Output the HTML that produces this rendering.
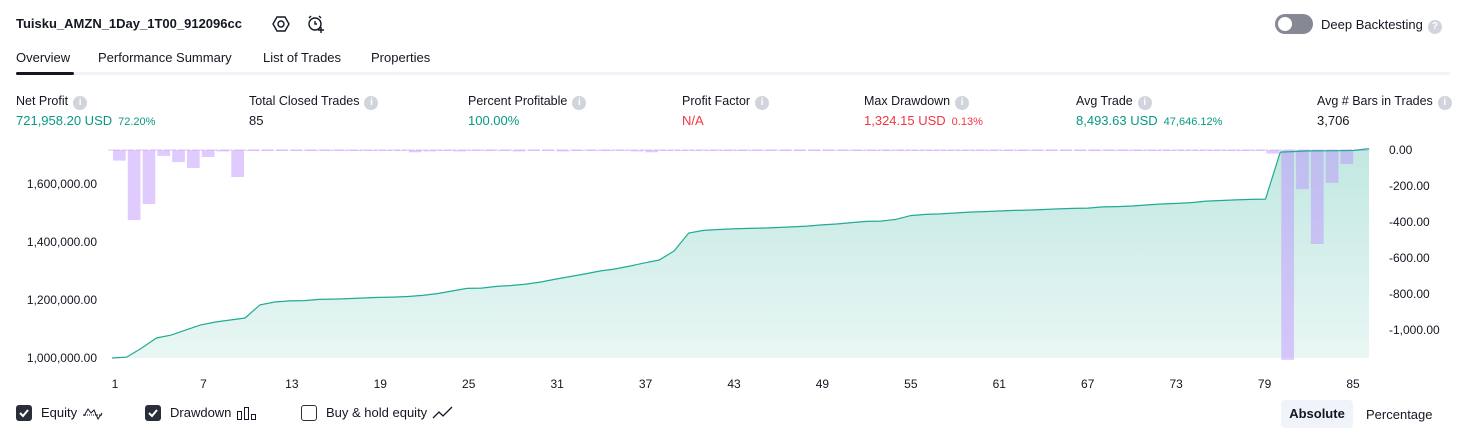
<!DOCTYPE html>
<html><head><meta charset="utf-8">
<style>
body{margin:0;width:1466px;height:438px;background:#fff;font-family:"Liberation Sans","DejaVu Sans",sans-serif;color:#131722;position:relative;overflow:hidden}
.a{position:absolute;white-space:nowrap}
.lbl{font-size:12.5px;font-weight:normal;color:#131722}
.val{font-size:13px}
.info{display:inline-block;width:14px;height:14px;border-radius:50%;background:#d1d4dc;color:#fff;font-size:10px;text-align:center;line-height:14px;vertical-align:0px;margin-left:5px;font-weight:bold}
.g{color:#089981}.r{color:#f23645}
.sm{font-size:11px;margin-left:6px}
.cb{display:inline-block;width:16px;height:16px;border-radius:3px;background:#2a2e39;vertical-align:-4px;margin-right:9px;position:relative}
.cb.off{background:#fff;border:1.5px solid #2a2e39;width:14px;height:14px}
</style></head><body>
<div class="a" style="left:16px;top:16px;font-size:13px;font-weight:bold">Tuisku_AMZN_1Day_1T00_912096cc</div>
<svg class="a" style="left:272px;top:15px" width="18" height="18"><polygon points="5,2 13,2 17,9 13,16 5,16 1,9" fill="none" stroke="#131722" stroke-width="1.4"/><circle cx="9" cy="9" r="3" fill="none" stroke="#131722" stroke-width="1.4"/></svg>
<svg class="a" style="left:306px;top:14px" width="20" height="20"><circle cx="9" cy="10" r="6" fill="none" stroke="#131722" stroke-width="1.4"/><path d="M9 7v3h2M3 4l2-2M15 4l-2-2M15 13v6M12 16h6" stroke="#131722" stroke-width="1.4" fill="none"/></svg>
<div class="a" style="left:1275px;top:14px;width:38px;height:20px;border-radius:10px;background:#868993"><div style="position:absolute;left:3px;top:3px;width:14px;height:14px;border-radius:50%;background:#fff"></div></div>
<div class="a" style="left:1321px;top:17px;font-size:13px">Deep Backtesting<span class="info">?</span></div>

<div class="a" style="left:16px;top:50px;font-size:13px">Overview</div>
<div class="a" style="left:98px;top:50px;font-size:13px">Performance Summary</div>
<div class="a" style="left:263px;top:50px;font-size:13px">List of Trades</div>
<div class="a" style="left:371px;top:50px;font-size:13px">Properties</div>
<div class="a" style="left:16px;top:72px;width:1434px;height:3px;background:#f0f3fa;border-radius:2px"></div>
<div class="a" style="left:16px;top:72px;width:58px;height:3px;background:#131722;border-radius:2px"></div>

<div class="a lbl" style="left:16px;top:94px">Net Profit<span class="info">i</span></div>
<div class="a val g" style="left:16px;top:113px">721,958.20 USD<span class="sm">72.20%</span></div>
<div class="a lbl" style="left:249px;top:94px">Total Closed Trades<span class="info">i</span></div>
<div class="a val" style="left:249px;top:113px">85</div>
<div class="a lbl" style="left:468px;top:94px">Percent Profitable<span class="info">i</span></div>
<div class="a val g" style="left:468px;top:113px">100.00%</div>
<div class="a lbl" style="left:682px;top:94px">Profit Factor<span class="info">i</span></div>
<div class="a val r" style="left:682px;top:113px">N/A</div>
<div class="a lbl" style="left:864px;top:94px">Max Drawdown<span class="info">i</span></div>
<div class="a val r" style="left:864px;top:113px">1,324.15 USD<span class="sm">0.13%</span></div>
<div class="a lbl" style="left:1076px;top:94px">Avg Trade<span class="info">i</span></div>
<div class="a val g" style="left:1076px;top:113px">8,493.63 USD<span class="sm">47,646.12%</span></div>
<div class="a lbl" style="left:1317px;top:94px">Avg # Bars in Trades<span class="info">i</span></div>
<div class="a val" style="left:1317px;top:113px">3,706</div>

<svg class="a" id="chart" style="left:0;top:0" width="1466" height="438"></svg>

<div class="a" style="left:16px;top:405px;font-size:13px"><span class="cb"><svg width="16" height="16"><path d="M4 8l3 3 5-6" stroke="#fff" stroke-width="2" fill="none"/></svg></span>Equity <svg width="24" height="16" style="vertical-align:-4px"><path d="M2 10h20" stroke="#131722" stroke-dasharray="1 1"/><path d="M3 11l4-7 3 4 3-3 4 9 4-6" stroke="#131722" fill="none"/></svg></div>
<div class="a" style="left:145px;top:405px;font-size:13px"><span class="cb"><svg width="16" height="16"><path d="M4 8l3 3 5-6" stroke="#fff" stroke-width="2" fill="none"/></svg></span>Drawdown <svg width="24" height="16" style="vertical-align:-4px"><rect x="2.5" y="6.5" width="4" height="8" fill="none" stroke="#131722"/><rect x="9.5" y="2.5" width="4" height="12" fill="none" stroke="#131722"/><rect x="16.5" y="9.5" width="4" height="5" fill="none" stroke="#131722"/></svg></div>
<div class="a" style="left:301px;top:405px;font-size:13px"><span class="cb off"></span>Buy &amp; hold equity <svg width="24" height="16" style="vertical-align:-4px"><path d="M2 13l6-6 4 4 9-9" stroke="#131722" fill="none" stroke-width="1.3"/></svg></div>
<div class="a" style="left:1281px;top:400px;width:72px;height:28px;background:#f0f3fa;border-radius:4px;font-size:13px;font-weight:bold;text-align:center;line-height:28px">Absolute</div>
<div class="a" style="left:1366px;top:407px;font-size:13px">Percentage</div>

<script>
const equity=[1000000,1003000,1034000,1069000,1079000,1097000,1114000,1124000,1131000,1138000,1183000,1193000,1197000,1198000,1202000,1203000,1205000,1207000,1209000,1210000,1212000,1216000,1222000,1231000,1240000,1241000,1247000,1250000,1255000,1262000,1272000,1281000,1290000,1300000,1307000,1317000,1328000,1338000,1369000,1431000,1440000,1443000,1445000,1447000,1448000,1450000,1452000,1455000,1459000,1462000,1467000,1471000,1472000,1478000,1491000,1495000,1497000,1500000,1503000,1505000,1507000,1509000,1510000,1512000,1514000,1516000,1517000,1521000,1522000,1524000,1528000,1531000,1533000,1536000,1541000,1543000,1545000,1547000,1548000,1710000,1712000,1714000,1714500,1715000,1716000,1721958];
const drawdown=[-59,-389,-300,-33,-67,-100,-39,-8,-150,-3,-5,-3,-5,-5,-5,-3,-5,-5,-3,-5,-13,-8,-3,-8,-5,-3,-5,-8,-3,-5,-8,-3,-5,-5,-5,-8,-13,-3,-3,-3,-3,-3,-3,-3,-3,-3,-3,-3,-3,-3,-3,-3,-3,-3,-3,-3,-3,-3,-3,-3,-3,-3,-3,-3,-3,-3,-3,-3,-3,-3,-3,-3,-3,-3,-3,-3,-3,-3,-20,-1166,-217,-522,-183,-78,-3];
const xTicks=[1,7,13,19,25,31,37,43,49,55,61,67,73,79,85];
const eqTicks=[1000000,1200000,1400000,1600000];
const ddTicks=[0,-200,-400,-600,-800,-1000];
const NS='http://www.w3.org/2000/svg';
const svg=document.getElementById('chart');
const fmt=(v,d)=>v.toLocaleString('en-US',{minimumFractionDigits:d,maximumFractionDigits:d});
const step=(1369-112)/85;
const xEq=i=>112+i*step;
const yEq=v=>358-(v-1000000)*58/200000;
const xTrade=n=>115+(n-1)*(1353-115)/84;
const yDD=v=>150-v*0.18;
function mk(tag,attrs){const e=document.createElementNS(NS,tag);for(const k in attrs)e.setAttribute(k,attrs[k]);svg.appendChild(e);return e;}
const defs=mk('defs',{});
defs.innerHTML='<linearGradient id="gf" x1="0" y1="0" x2="0" y2="1"><stop offset="0" stop-color="#22ab94" stop-opacity="0.28"/><stop offset="1" stop-color="#22ab94" stop-opacity="0.1"/></linearGradient>';
let pts=equity.map((v,i)=>xEq(i).toFixed(1)+','+yEq(v).toFixed(1));
const area=mk('path',{d:'M'+xEq(0)+',358L'+pts.join('L')+'L'+xEq(equity.length-1)+',358Z',fill:'url(#gf)'});


const base=mk('line',{x1:108,x2:1370,y1:150,y2:150,stroke:'#e1c4fb','stroke-width':1,'stroke-dasharray':'12 2'});


const bw=step*0.86;
drawdown.forEach((v,i)=>{
  const r=mk('rect',{x:(xEq(i+0.5)-bw/2).toFixed(1),y:150,width:bw.toFixed(1),height:Math.max(1,yDD(v)-150).toFixed(1),fill:'#ba8cff','fill-opacity':0.45});
  
  
});
const line=mk('polyline',{points:pts.join(' '),fill:'none',stroke:'#22ab94','stroke-width':1.2});


xTicks.forEach(t=>{const e=mk('text',{x:xTrade(t),y:388,'text-anchor':'middle','font-size':12,fill:'#131722','font-family':'Liberation Sans, sans-serif'});e.textContent=t;

});
eqTicks.forEach(t=>{const e=mk('text',{x:97,y:yEq(t)+4,'text-anchor':'end','font-size':12,fill:'#131722','font-family':'Liberation Sans, sans-serif'});e.textContent=fmt(t,2);

});
ddTicks.forEach(t=>{const e=mk('text',{x:1389,y:yDD(t)+4,'font-size':12,fill:'#131722','font-family':'Liberation Sans, sans-serif'});e.textContent=fmt(t,2);

});
</script>
</body></html>
